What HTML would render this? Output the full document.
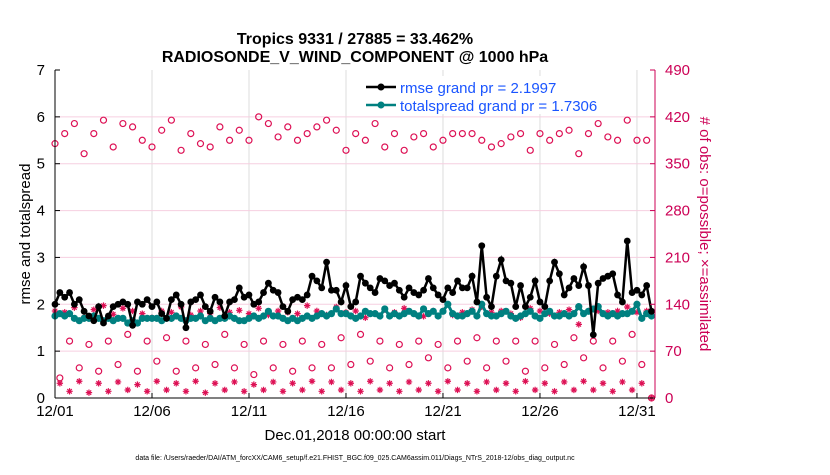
<!DOCTYPE html>
<html><head><meta charset="utf-8"><style>
body{margin:0;background:#fff;font-family:"Liberation Sans",sans-serif}
svg text{font-family:"Liberation Sans",sans-serif}
</style></head><body>
<svg id="chart" width="830" height="470" viewBox="0 0 830 470">
<rect width="830" height="470" fill="#fff"/>
<text x="355" y="44" text-anchor="middle" font-size="16" font-weight="bold">Tropics 9331 / 27885 = 33.462%</text>
<text x="355" y="62" text-anchor="middle" font-size="16" font-weight="bold">RADIOSONDE_V_WIND_COMPONENT @ 1000 hPa</text>
<g id="grid"></g><g id="obs"></g><g id="series"></g><g id="axes"></g>
<text transform="translate(30,234) rotate(-90)" text-anchor="middle" font-size="15">rmse and totalspread</text>
<text transform="translate(700,234) rotate(90)" text-anchor="middle" font-size="15" fill="#cc0055"># of obs: o=possible; ×=assimilated</text>
<text x="355" y="440" text-anchor="middle" font-size="15">Dec.01,2018 00:00:00 start</text>
<text x="355" y="460" text-anchor="middle" font-size="7">data file: /Users/raeder/DAI/ATM_forcXX/CAM6_setup/f.e21.FHIST_BGC.f09_025.CAM6assim.011/Diags_NTrS_2018-12/obs_diag_output.nc</text>
<g>
<rect x="362" y="76" width="195" height="38" fill="#fff"/>
<line x1="366" y1="87" x2="396" y2="87" stroke="#000" stroke-width="2.5"/>
<circle cx="381" cy="87" r="3.5" fill="#000"/>
<text x="400" y="93" font-size="15" fill="#1a55ff">rmse grand pr = 2.1997</text>
<line x1="366" y1="105" x2="396" y2="105" stroke="#008080" stroke-width="2.5"/>
<circle cx="381" cy="105" r="3.5" fill="#008080"/>
<text x="400" y="111" font-size="15" fill="#1a55ff">totalspread grand pr = 1.7306</text>
</g>
</svg>
<script>
const xTickLabels=["12/01","12/06","12/11","12/16","12/21","12/26","12/31"];
const xTickDays=[0,5,10,15,20,25,30];
const yLeftTicks=[0,1,2,3,4,5,6,7];
const yRightTicks=[0,70,140,210,280,350,420,490];
const rmse=[2.0,2.25,2.15,2.25,2.0,2.1,1.85,1.75,1.65,1.95,1.6,1.75,1.95,2.0,2.05,2.0,1.55,2.05,2.0,2.1,1.95,2.05,1.8,1.7,
2.1,2.2,2.0,1.5,2.05,2.1,2.2,1.95,1.85,2.15,2.05,1.75,2.05,2.1,2.35,2.15,2.2,2.0,2.05,2.25,2.45,2.3,2.25,1.95,
1.85,2.1,2.15,2.1,2.2,2.6,2.5,2.35,2.9,2.3,2.3,2.05,2.4,1.95,2.05,2.6,2.45,2.35,2.25,2.55,2.5,2.4,2.45,2.3,
2.15,2.35,2.25,2.2,2.3,2.55,2.35,2.2,2.1,2.35,2.25,2.5,2.35,2.35,2.6,2.05,3.25,2.15,1.95,2.6,2.95,2.5,2.45,1.95,
2.4,1.95,2.15,2.5,2.05,1.95,2.5,2.9,2.65,2.2,2.35,2.55,2.4,2.8,2.4,1.35,2.45,2.55,2.6,2.65,2.2,2.05,3.35,2.25,2.3,2.2,2.4,1.85];
const spread=[1.75,1.8,1.75,1.8,1.7,1.65,1.7,1.7,1.75,1.7,1.65,1.7,1.65,1.7,1.7,1.6,1.65,1.6,1.7,1.7,1.7,1.7,1.65,1.7,
1.7,1.75,1.7,1.65,1.7,1.7,1.75,1.65,1.7,1.65,1.7,1.7,1.75,1.7,1.65,1.65,1.7,1.75,1.7,1.75,1.85,1.75,1.75,1.7,
1.65,1.7,1.65,1.7,1.75,1.7,1.75,1.8,1.75,1.8,1.9,1.8,1.8,1.75,1.7,1.75,1.85,1.8,1.8,1.75,1.9,1.75,1.8,1.75,
1.8,1.85,1.8,1.75,1.9,1.8,1.85,1.75,1.85,2.0,1.8,1.75,1.75,1.8,1.85,1.75,2.0,1.8,1.75,1.75,1.8,1.85,1.75,1.7,
1.75,1.8,1.85,1.75,1.7,1.8,1.85,1.75,1.75,1.8,1.75,1.8,1.95,1.8,1.85,1.9,1.95,1.8,1.75,1.8,1.75,1.8,1.8,1.85,2.0,1.7,1.8,1.75];
const possible=[380,30,395,85,410,45,365,80,395,40,415,85,375,50,410,95,405,40,385,85,375,55,400,90,
415,40,370,85,395,45,380,80,375,50,405,95,385,45,400,80,385,35,420,85,410,45,390,80,
405,40,385,85,395,45,405,80,415,45,400,90,370,50,395,95,385,55,410,85,375,45,395,80,
370,50,390,85,395,60,375,80,385,45,395,85,395,55,395,90,385,45,375,85,380,55,390,85,
395,40,370,85,395,45,385,80,395,50,400,90,365,60,395,85,410,45,390,85,385,55,415,95,385,50,385,0];
const assimilated=[130,22,128,10,135,25,120,8,132,22,138,10,125,24,134,12,130,20,126,10,120,25,130,12,
128,22,136,10,124,25,130,8,126,22,135,12,128,24,131,10,126,20,134,12,124,24,130,10,
128,22,126,12,138,25,130,10,124,24,136,12,128,22,130,10,120,25,126,12,132,22,128,10,
134,24,126,12,122,22,130,10,130,25,124,12,128,22,132,10,136,24,128,12,130,22,126,10,
120,25,134,12,130,22,126,10,128,24,132,12,110,25,130,12,130,22,128,10,130,24,136,12,128,22,130,0];
const L=55,R=655,T=70,B=398,DAYS=30.93;
const X=d=>L+(R-L)*d/DAYS;
const Y=v=>B-(B-T)*v/7;
const YR=v=>B-(B-T)*v/490;
const NS="http://www.w3.org/2000/svg";
function mk(tag,parent,attrs){const e=document.createElementNS(NS,tag);for(const k in attrs)e.setAttribute(k,attrs[k]);document.getElementById(parent).appendChild(e);return e;}
xTickDays.forEach((d,i)=>{
 const g=mk('line','grid',{x1:X(d),x2:X(d),y1:T,y2:B,stroke:'#ddd','stroke-width':1});
 
 
 const t=mk('text','axes',{x:X(d),y:B+18,'text-anchor':'middle','font-size':15});
 t.textContent=xTickLabels[i];
 
 
 const tk=mk('line','axes',{x1:X(d),x2:X(d),y1:B,y2:B-5,stroke:'#000'});
 
 
});
yLeftTicks.forEach(v=>{
 if(v>0&&v<7){const g=mk('line','grid',{x1:L,x2:R,y1:Y(v),y2:Y(v),stroke:'#f6cfe0','stroke-width':1});
 
 }
 const t=mk('text','axes',{x:L-10,y:Y(v)+5,'text-anchor':'end','font-size':15});
 t.textContent=v;
 
 
 const tk=mk('line','axes',{x1:L,x2:L+5,y1:Y(v),y2:Y(v),stroke:'#000'});
 
 
});
yRightTicks.forEach(v=>{
 const t=mk('text','axes',{x:R+10,y:YR(v)+5,'font-size':15,fill:'#cc0055'});
 t.textContent=v;
 
 
 const tk=mk('line','axes',{x1:R,x2:R-5,y1:YR(v),y2:YR(v),stroke:'#cc0055'});
 
 
});
let a=mk('line','axes',{x1:L,x2:L,y1:T,y2:B,stroke:'#000'});


a=mk('line','axes',{x1:L,x2:R,y1:B,y2:B,stroke:'#000'});


a=mk('line','axes',{x1:R,x2:R,y1:T,y2:B,stroke:'#cc0055'});


const dx=i=>X(i*0.25);
possible.forEach((v,i)=>{
 const c=mk('circle','obs',{cx:dx(i),cy:YR(v),r:3,fill:'none',stroke:'#dd1155','stroke-width':1.2});
 
 
});
assimilated.forEach((v,i)=>{
 const x=dx(i),y=YR(v),s=3.2;
 const p=mk('path','obs',{d:`M${x-s} ${y}H${x+s}M${x} ${y-s}V${y+s}M${x-s*.7} ${y-s*.7}L${x+s*.7} ${y+s*.7}M${x-s*.7} ${y+s*.7}L${x+s*.7} ${y-s*.7}`,stroke:'#dd1155','stroke-width':1.2});
 
 
});
function series(vals,color,name,w,r){
 const pl=mk('polyline','series',{points:vals.map((v,i)=>dx(i)+','+Y(v)).join(' '),fill:'none',stroke:color,'stroke-width':w});
 
 
 vals.forEach((v,i)=>{
  const c=mk('circle','series',{cx:dx(i),cy:Y(v),r:r,fill:color});
  
  
 });
}
series(spread,'#008080','spread',3,3.6);
series(rmse,'#000','rmse',2.5,3.4);
</script>
</body></html>
